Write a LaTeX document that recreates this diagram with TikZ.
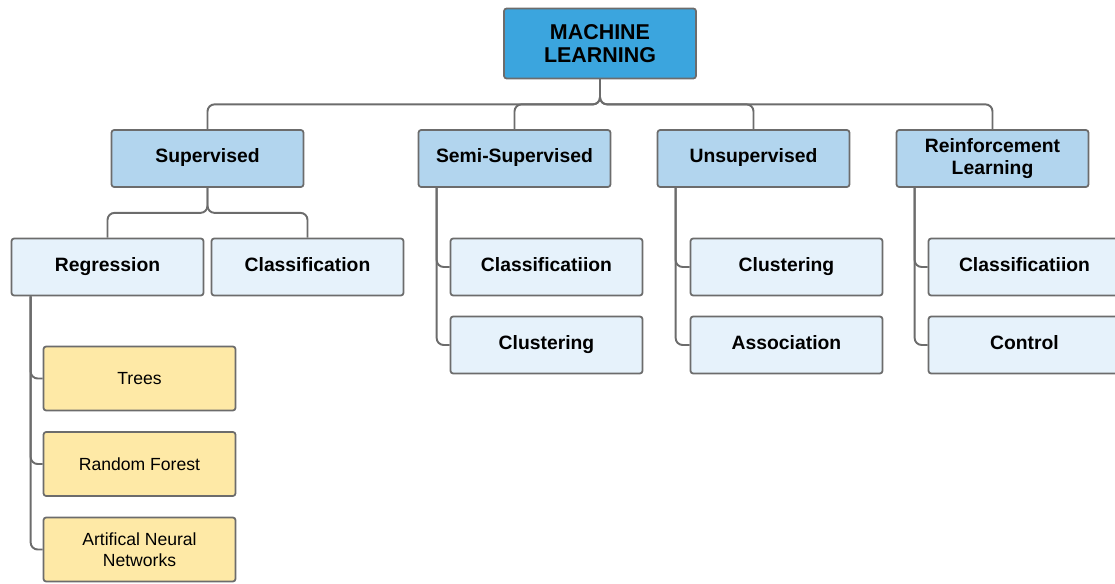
\documentclass[tikz,border=0pt]{standalone}
\usepackage{fontspec}
\setmainfont{Liberation Sans}
\definecolor{mlblue}{RGB}{59,165,222}
\definecolor{catblue}{RGB}{178,213,238}
\definecolor{leafblue}{RGB}{230,242,251}
\definecolor{leafyellow}{RGB}{254,233,166}
\definecolor{linegray}{RGB}{108,108,108}
\begin{document}
\begin{tikzpicture}[x=0.02cm,y=-0.02cm]
            \tikzset{box/.style = {rectangle, rounded corners=1.5pt, draw=linegray, line width=1pt, minimum width=3.84cm, minimum height=1.14cm, align=center, inner sep=1pt, font=\bfseries\fontsize{11}{12.5}\selectfont}}
            \tikzset{oneline/.style = {text height=0.72em, text depth=0.21em}}
            \tikzset{topbox/.style = {box, fill=mlblue, minimum height=1.4cm, font=\bfseries\fontsize{12.2}{13.2}\selectfont}}
            \tikzset{catbox/.style = {box, fill=catblue}}
            \tikzset{leafbox/.style = {box, oneline, fill=leafblue}}
            \tikzset{algbox/.style = {box, fill=leafyellow, minimum height=1.28cm, font=\fontsize{10}{12}\selectfont}}
            \tikzset{conn/.style = {draw=linegray, line width=1.1pt, rounded corners=4pt}}
            \useasboundingbox (0,0) rectangle (1115,584);
            
            \node[topbox] (ml) at (600,43.5) {MACHINE\\LEARNING};
            
            \node[catbox, oneline] (sup) at (207.5,158.5) {Supervised};
            \node[catbox, oneline] (semi) at (514.5,158.5) {Semi-Supervised};
            \node[catbox, oneline] (unsup) at (753.5,158.5) {Unsupervised};
            \node[catbox] (reinf) at (992.5,158.5) {Reinforcement\\Learning};
            
            \node[leafbox] (regr) at (107.5,267) {Regression};
            \node[leafbox] (class) at (307.5,267) {Classification};
            \node[leafbox] (semiclass) at (546.5,267) {Classificatiion};
            \node[leafbox] (semiclust) at (546.5,345) {Clustering};
            \node[leafbox] (unclust) at (786.5,267) {Clustering};
            \node[leafbox] (unassoc) at (786.5,345) {Association};
            \node[leafbox] (reclass) at (1024.5,267) {Classificatiion};
            \node[leafbox] (recontrol) at (1024.5,345) {Control};
            
            \node[algbox] (trees) at (139.5,378.5) {Trees};
            \node[algbox] (forest) at (139.5,464) {Random Forest};
            \node[algbox] (ann) at (139.5,549.5) {Artifical Neural\\Networks};
            
            \draw[conn] (ml.south) -- ++(0,25) -| (sup.north);
            \draw[conn] (ml.south) -- ++(0,25) -| (semi.north);
            \draw[conn] (ml.south) -- ++(0,25) -| (unsup.north);
            \draw[conn] (ml.south) -- ++(0,25) -| (reinf.north);
            
            \draw[conn] (sup.south) -- ++(0,25) -| (regr.north);
            \draw[conn] (sup.south) -- ++(0,25) -| (class.north);
            
            \draw[conn] ([xshift=0.38cm]semi.south west) |- (semiclass.west);
            \draw[conn] ([xshift=0.38cm]semi.south west) |- (semiclust.west);
            \draw[conn] ([xshift=0.38cm]unsup.south west) |- (unclust.west);
            \draw[conn] ([xshift=0.38cm]unsup.south west) |- (unassoc.west);
            \draw[conn] ([xshift=0.38cm]reinf.south west) |- (reclass.west);
            \draw[conn] ([xshift=0.38cm]reinf.south west) |- (recontrol.west);
            
            \draw[conn] ([xshift=0.4cm]regr.south west) |- (trees.west);
            \draw[conn] ([xshift=0.4cm]regr.south west) |- (forest.west);
            \draw[conn] ([xshift=0.4cm]regr.south west) |- (ann.west);
            
        \end{tikzpicture}
\end{document}
